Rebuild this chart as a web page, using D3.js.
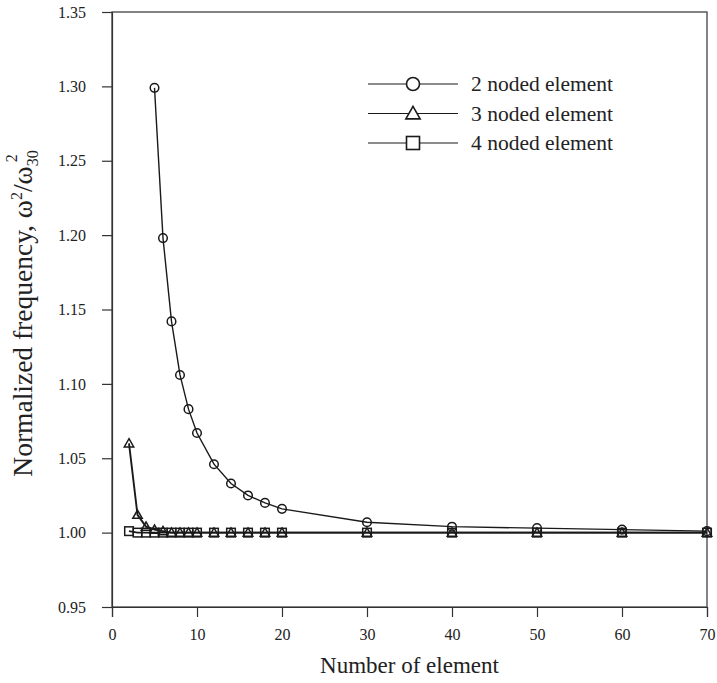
<!DOCTYPE html>
<html>
<head>
<meta charset="utf-8">
<script src="https://cdn.jsdelivr.net/npm/d3@7"></script>
<style>
  body { margin: 0; background: #fff; }
  text { font-family: "Liberation Serif", "Times New Roman", serif; fill: #222; }
</style>
</head>
<body>
<svg id="chart" width="717" height="683"></svg>
<script>
// data
const xTicks = [0, 10, 20, 30, 40, 50, 60, 70];
const yTicks = [0.95, 1.00, 1.05, 1.10, 1.15, 1.20, 1.25, 1.30, 1.35];

const elems2 = [5, 6, 7, 8, 9, 10, 12, 14, 16, 18, 20, 30, 40, 50, 60, 70];
const freq2 = [1.299, 1.198, 1.142, 1.106, 1.083, 1.067, 1.046, 1.033, 1.025, 1.020, 1.016, 1.007, 1.004, 1.003, 1.002, 1.001];

const elems3 = [2, 3, 4, 5, 6, 7, 8, 9, 10, 12, 14, 16, 18, 20, 30, 40, 50, 60, 70];
const freq3 = [1.060, 1.012, 1.004, 1.002, 1.001, 1.000, 1.000, 1.000, 1.000, 1.000, 1.000, 1.000, 1.000, 1.000, 1.000, 1.000, 1.000, 1.000, 1.000];

const elems4 = [2, 3, 4, 5, 6, 7, 8, 9, 10, 12, 14, 16, 18, 20, 30, 40, 50, 60, 70];
const freq4 = [1.001, 1.000, 1.000, 1.000, 1.000, 1.000, 1.000, 1.000, 1.000, 1.000, 1.000, 1.000, 1.000, 1.000, 1.000, 1.000, 1.000, 1.000, 1.000];

const seriesNames = ["2 noded element", "3 noded element", "4 noded element"];
const markers = ["circle", "triangle", "square"];

let margin = {top: 12, right: 10, bottom: 76, left: 112};
let width = 717 - margin.left - margin.right;
let height = 683 - margin.top - margin.bottom;

let svg = d3.select("#chart")
    .append("g")
    .attr("transform", `translate(${margin.left},${margin.top})`);

let x = d3.scaleLinear().domain([0, 70]).range([0, width]);
let y = d3.scaleLinear().domain([0.95, 1.35]).range([height, 0]);

// frame
svg.append("rect")
    .attr("width", width)
    .attr("height", height)
    .attr("fill", "none")
    .attr("stroke", "#333")
    .attr("stroke-width", 1.2);

let xAxis = svg.append("g")
    .attr("transform", `translate(0,${height})`)
    .call(d3.axisBottom(x).tickValues(xTicks).tickSize(10).tickPadding(12).tickFormat(d3.format("d")));

let yAxis = svg.append("g")
    .call(d3.axisLeft(y).tickValues(yTicks).tickSize(10).tickPadding(16).tickFormat(d3.format(".2f")));

[xAxis, yAxis].forEach(a => {
    a.attr("font-family", "Liberation Serif").attr("font-size", 16);
    a.select(".domain").attr("stroke", "#333").attr("stroke-width", 1.2);
    a.selectAll(".tick line").attr("stroke", "#333").attr("stroke-width", 1.2);
    a.selectAll(".tick text").attr("fill", "#222");
});

// axis titles
svg.append("text")
    .attr("x", width / 2)
    .attr("y", height + 66)
    .attr("text-anchor", "middle")
    .style("font-size", "23px")
    .text("Number of element");

let yTitle = svg.append("text")
    .attr("transform", `translate(-80,${height / 2 + 4}) rotate(-90)`)
    .attr("text-anchor", "middle")
    .style("font-size", "27.5px");
yTitle.append("tspan").text("Normalized frequency, ω");
yTitle.append("tspan").attr("dy", -10).style("font-size", "16px").text("2");
yTitle.append("tspan").attr("dy", 10).text("/ω");
yTitle.append("tspan").attr("dy", 6).style("font-size", "16px").text("30");
yTitle.append("tspan").attr("dx", -12).attr("dy", -21).style("font-size", "16px").text("2");

// marker shapes
function drawMarker(g, type, cx, cy, r) {
    if (type === "circle") {
        g.append("circle").attr("cx", cx).attr("cy", cy).attr("r", r);
    } else if (type === "triangle") {
        let h = r * 1.1;
        g.append("path").attr("d", `M${cx},${cy - h}L${cx + h},${cy + h * 0.75}L${cx - h},${cy + h * 0.75}Z`);
    } else {
        g.append("rect").attr("x", cx - r).attr("y", cy - r).attr("width", 2 * r).attr("height", 2 * r);
    }
}

let line = d3.line().x(d => x(d[0])).y(d => y(d[1]));

const allSeries = [
    d3.zip(elems2, freq2),
    d3.zip(elems3, freq3),
    d3.zip(elems4, freq4)
];

allSeries.forEach((data, i) => {
    svg.append("path")
        .datum(data)
        .attr("d", line)
        .attr("fill", "none")
        .attr("stroke", "#1a1a1a")
        .attr("stroke-width", i === 0 ? 1.4 : 1.9);
});

allSeries.forEach((data, i) => {
    let g = svg.append("g")
        .attr("fill", "none")
        .attr("stroke", "#1a1a1a")
        .attr("stroke-width", 1.5);
    data.forEach(d => drawMarker(g, markers[i], x(d[0]), y(d[1]), 4.3));
});

// legend
let legend = svg.append("g").attr("transform", "translate(256,72)");
seriesNames.forEach((name, i) => {
    let row = legend.append("g").attr("transform", `translate(0,${i * 29.5})`);
    row.append("line")
        .attr("x1", 0).attr("x2", 90)
        .attr("stroke", "#1a1a1a").attr("stroke-width", 1.2);
    let m = row.append("g").attr("fill", "#fff").attr("stroke", "#1a1a1a").attr("stroke-width", 1.6);
    drawMarker(m, markers[i], 45, 0, 6.5);
    row.append("text")
        .attr("x", 103)
        .attr("y", 7)
        .style("font-size", "21.5px")
        .text(name);
});
</script>
</body>
</html>
